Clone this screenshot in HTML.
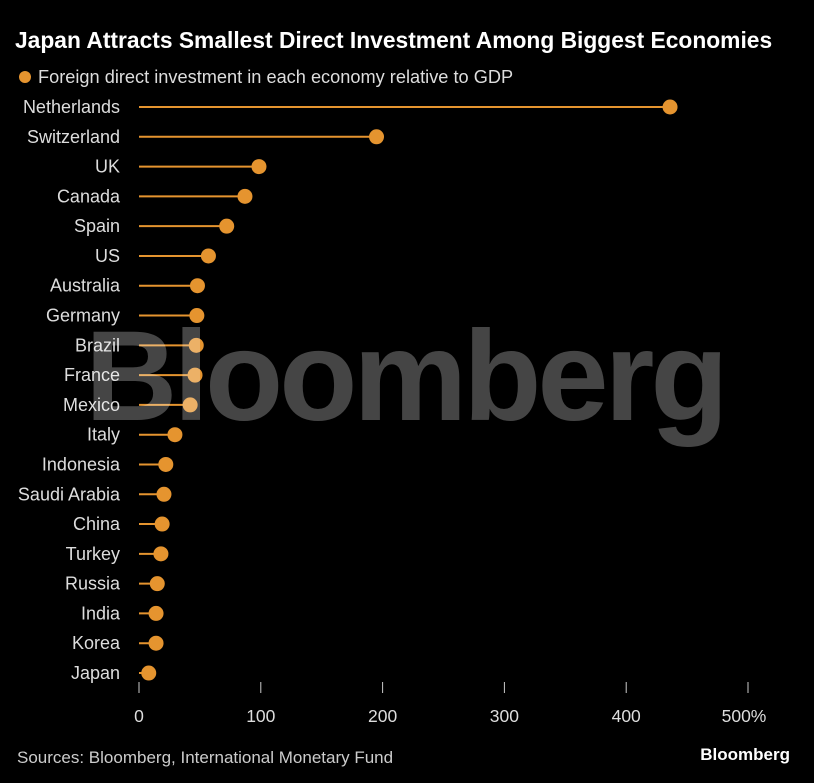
<!DOCTYPE html>
<html><head><meta charset="utf-8">
<style>
body{margin:0;background:#000;width:814px;height:783px;overflow:hidden;font-family:"Liberation Sans",sans-serif;}
svg{display:block}
</style></head>
<body>
<svg id="chart" width="814" height="783" xmlns="http://www.w3.org/2000/svg">
<rect width="814" height="783" fill="#000"/>
<text x="15" y="48" fill="#fff" font-size="22.8" font-weight="bold" font-family="Liberation Sans, sans-serif">Japan Attracts Smallest Direct Investment Among Biggest Economies</text>
<circle cx="25" cy="77" r="6" fill="#e5942f"/>
<text x="38" y="83" fill="#ddd" font-size="18.2" font-family="Liberation Sans, sans-serif">Foreign direct investment in each economy relative to GDP</text>
<g id="marks"></g>
<g id="axis"></g>
<text x="17" y="763" fill="#ccc" font-size="17" font-family="Liberation Sans, sans-serif">Sources: Bloomberg, International Monetary Fund</text>
<text x="790" y="760" fill="#fff" font-size="17" font-weight="bold" text-anchor="end" font-family="Liberation Sans, sans-serif">Bloomberg</text>
<text x="85" y="420" fill="#fff" fill-opacity="0.27" font-size="128" font-weight="bold" letter-spacing="-4" font-family="Liberation Sans, sans-serif">Bloomberg</text>
</svg>
<script>
const categories=["Netherlands","Switzerland","UK","Canada","Spain","US","Australia","Germany","Brazil","France","Mexico","Italy","Indonesia","Saudi Arabia","China","Turkey","Russia","India","Korea","Japan"];
const values=[436,195,98.5,87,72,57,48,47.5,47,46,42,29.5,22,20.5,19,18,15,14,14,8];
const ticks=[0,100,200,300,400,500];
const tickLabels=["0","100","200","300","400","500%"];
const NS="http://www.w3.org/2000/svg";
const x=v=>139+v*1.218;
const y=i=>107+i*29.79;
function mk(t,a){const e=document.createElementNS(NS,t);for(const k in a)e.setAttribute(k,a[k]);return e;}
const g=document.getElementById('marks');
categories.forEach((c,i)=>{
 const l=mk('line',{x1:x(0),x2:x(values[i]),y1:y(i),y2:y(i),stroke:'#e5942f','stroke-width':2});
 
 
 g.appendChild(l);
 const d=mk('circle',{cx:x(values[i]),cy:y(i),r:7.5,fill:'#e5942f'});
 
 
 g.appendChild(d);
 const t=mk('text',{x:120,y:y(i)+6,fill:'#ddd','font-size':18,'text-anchor':'end','font-family':'Liberation Sans, sans-serif'});
 t.textContent=c;
 
 
 g.appendChild(t);
});
const a=document.getElementById('axis');
ticks.forEach((v,i)=>{
 const l=mk('line',{x1:x(v),x2:x(v),y1:682,y2:693,stroke:'#ccc','stroke-width':1});
 
 
 a.appendChild(l);
 const t=mk('text',{x:x(v)+(i==5?-4:0),y:722,fill:'#ddd','font-size':17.5,'text-anchor':'middle','font-family':'Liberation Sans, sans-serif'});
 t.textContent=tickLabels[i];
 
 
 a.appendChild(t);
});
</script>
</body></html>
